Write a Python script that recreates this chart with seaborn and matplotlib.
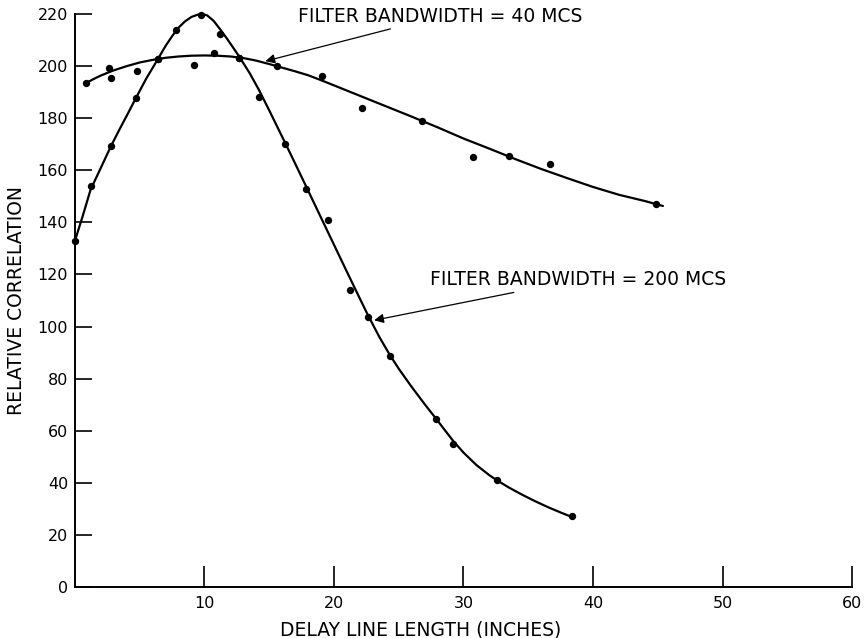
import matplotlib
matplotlib.use("Agg")
import matplotlib.pyplot as plt
import seaborn as sns
import pandas as pd

# ---- data ----
# Filter bandwidth = 200 MCS : measured points
x200 = [0.0, 1.2, 2.8, 4.7, 6.4, 7.8, 9.7, 11.2, 12.7, 14.2, 16.2, 17.8,
        19.5, 21.2, 22.6, 24.3, 27.9, 29.2, 32.6, 38.4]
y200 = [133, 154, 169.5, 187.7, 202.7, 213.8, 219.7, 212.4, 203.3, 188.3,
        170, 153, 140.9, 114, 103.5, 88.5, 64.6, 55, 41.2, 27.2]
# hand-drawn smooth curve, 200 MCS
cx200 = [0, 0.6, 1.2, 2.0, 2.8, 3.5, 4.0, 4.7, 5.5, 6.4, 7.0, 7.5, 8.0, 8.5,
         9.0, 9.5, 9.8, 10.2, 10.7, 11.2, 11.7, 12.2, 12.7, 13.5, 14.2, 15.0,
         16.2, 17.0, 17.8, 19.0, 20.0, 21.0, 22.0, 22.6, 23.5, 24.3, 25.0,
         26.0, 27.0, 27.9, 28.5, 29.2, 30.0, 31.0, 32.0, 32.6, 33.5, 34.5,
         35.5, 36.5, 37.5, 38.4]
cy200 = [133, 142.5, 152.5, 161, 169.5, 176.3, 181, 187.7, 195.2, 202.7,
         207.8, 211.5, 214.8, 217.2, 218.9, 219.8, 220, 219.5, 217.4, 214.2,
         210.8, 207.2, 203.5, 197.2, 190.9, 183, 170.8, 162.6, 154.3, 141.8,
         131.4, 121, 110.7, 104.6, 96, 89.2, 83.8, 76.8, 70.2, 64.5, 60.6,
         56.1, 51.6, 46.8, 42.9, 40.9, 38.2, 35.5, 33, 30.7, 28.6, 26.8]

# Filter bandwidth = 40 MCS : measured points
x40 = [0.85, 2.6, 2.8, 4.8, 6.4, 9.2, 10.7, 12.7, 15.6, 19.05, 22.2, 26.8,
       30.7, 33.5, 36.7, 44.9]
y40 = [193.5, 199.3, 195.4, 198, 202.7, 200.6, 204.9, 203.3, 199.9, 196.3,
       183.8, 179, 165.1, 165.3, 162.6, 147.2]
# hand-drawn smooth curve, 40 MCS
cx40 = [0.85, 1.5, 2.0, 3.0, 4.0, 5.0, 6.0, 7.0, 8.0, 9.0, 10.0, 11.0, 12.0,
        13.0, 14.0, 15.0, 16.0, 17.0, 18.0, 19.0, 20.0, 22.0, 24.0, 26.0,
        28.0, 30.0, 32.0, 34.0, 36.0, 38.0, 40.0, 42.0, 44.0, 45.4]
cy40 = [193.5, 195.2, 196.4, 198.4, 200, 201.4, 202.4, 203.2, 203.7, 204,
        204.1, 204, 203.7, 203.1, 202.1, 200.8, 199.4, 198, 196.5, 194.6,
        192.6, 188.6, 184.6, 180.6, 176.5, 172.2, 168.3, 164.3, 160.5, 157,
        153.6, 150.6, 148.2, 146.3]

xticks = [10, 20, 30, 40, 50, 60]
yticks = [0, 20, 40, 60, 80, 100, 120, 140, 160, 180, 200, 220]
label40 = "FILTER BANDWIDTH = 40 MCS"
label200 = "FILTER BANDWIDTH = 200 MCS"
xlabel = "DELAY LINE LENGTH (INCHES)"
ylabel = "RELATIVE CORRELATION"

# ---- plotting ----
sns.set_style("ticks")
plt.rcParams["font.family"] = ["DejaVu Sans"]
plt.rcParams["text.color"] = "black"
plt.rcParams["axes.labelcolor"] = "black"
plt.rcParams["xtick.color"] = "black"
plt.rcParams["ytick.color"] = "black"

fig = plt.figure(figsize=(8.67, 6.38), dpi=100)
ax = fig.add_axes([0.0865, 0.080, 0.8962, 0.898])

pts200 = pd.DataFrame({"x": x200, "y": y200})
pts40 = pd.DataFrame({"x": x40, "y": y40})
cur200 = pd.DataFrame({"x": cx200, "y": cy200})
cur40 = pd.DataFrame({"x": cx40, "y": cy40})

for cur in (cur200, cur40):
    sns.lineplot(data=cur, x="x", y="y", ax=ax, color="black", lw=1.6,
                 estimator=None, sort=False, clip_on=False)
for pts in (pts200, pts40):
    sns.scatterplot(data=pts, x="x", y="y", ax=ax, color="black", s=28,
                    edgecolor="black", linewidth=0, zorder=5, clip_on=False)

ax.set_xlim(0, 60)
ax.set_ylim(0, 220)
ax.set_xticks(xticks)
ax.set_yticks(yticks)
ax.set_xticklabels([str(t) for t in xticks], fontsize=11.5)
ax.set_yticklabels([str(t) for t in yticks], fontsize=11.5)
ax.tick_params(axis="x", direction="in", length=15, width=1.2, pad=6.5)
ax.tick_params(axis="y", direction="in", length=12, width=1.2, pad=5)

sns.despine(ax=ax, top=True, right=True)
for sp in ("left", "bottom"):
    ax.spines[sp].set_linewidth(1.4)
    ax.spines[sp].set_color("black")

ax.set_xlabel(xlabel, fontsize=13.5)
ax.set_ylabel(ylabel, fontsize=13.5)
ax.xaxis.set_label_coords(0.445, -0.058)
ax.yaxis.set_label_coords(-0.063, 0.5)

arrow = dict(arrowstyle="-|>", color="black", lw=0.9, mutation_scale=14,
             shrinkA=0, shrinkB=0)
ax.annotate(label40, xy=(14.7, 201.9), xytext=(17.2, 219.2),
            fontsize=13.5, ha="left", va="center", arrowprops=arrow,
            annotation_clip=False)
ax.annotate(label200, xy=(23.1, 102.4), xytext=(27.4, 118.0),
            fontsize=13.5, ha="left", va="center", arrowprops=arrow,
            annotation_clip=False)

fig.savefig("out.png", dpi=100)
